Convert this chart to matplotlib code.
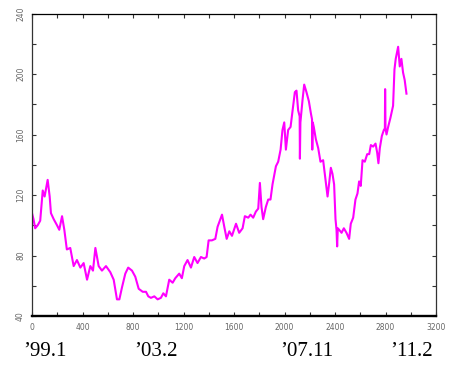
import matplotlib
matplotlib.use("Agg")
import matplotlib.pyplot as plt
from matplotlib.ticker import MultipleLocator

day = [0, 12, 25, 45, 65, 85, 100, 124, 140, 150, 172, 198, 216, 238, 256, 276, 303, 330, 356, 383,
       409, 436, 462, 483, 502, 528, 554, 586, 620, 647, 673, 692, 713, 739, 762, 792, 818, 845, 877, 903,
       921, 942, 969, 995, 1021, 1040, 1061, 1087, 1114, 1135, 1166, 1187, 1206, 1232, 1259, 1285, 1311,
       1338, 1364, 1383, 1399, 1425, 1452, 1470, 1505, 1523, 1542, 1563, 1584, 1616, 1641, 1668, 1686,
       1713, 1731, 1752, 1773, 1792, 1805, 1818, 1831, 1852, 1871, 1889, 1905, 1932, 1950, 1969, 1984,
       1998, 2011, 2029, 2048, 2064, 2082, 2095, 2108, 2120, 2122, 2126, 2143, 2156, 2174, 2193, 2209,
       2218, 2220, 2224, 2232, 2248, 2267, 2285, 2306, 2325, 2341, 2354, 2367, 2380, 2393, 2404, 2412,
       2417, 2422, 2433, 2452, 2470, 2491, 2512, 2525, 2544, 2562, 2578, 2591, 2604, 2618, 2636, 2655,
       2671, 2684, 2702, 2721, 2734, 2744, 2755, 2771, 2787, 2795, 2797, 2800, 2808, 2821, 2839, 2860,
       2871, 2881, 2900, 2913, 2926, 2939, 2952, 2966]
price = [108, 104, 98, 100, 103, 123, 119, 130, 119, 108, 104, 100, 97, 106, 97, 84, 85, 73, 77, 72,
         75, 64, 73, 70, 85, 73, 70, 73, 69, 64, 51, 51, 59, 68, 72, 70, 66, 58, 56, 56,
         53, 52, 53, 51, 52, 55, 53, 64, 62, 65, 68, 65, 73, 77, 72, 79, 75,
         79, 78, 79, 90, 90, 91, 99, 107, 99, 91, 96, 93, 101, 95, 98, 106,
         105, 107, 105, 109, 111, 128, 112, 104, 112, 117, 117, 127, 139, 142, 150, 163,
         168, 150, 163, 165, 176, 188, 189, 176, 172, 144, 168, 183, 193, 188, 182, 174,
         170, 150, 168, 165, 157, 151, 142, 143, 130, 119, 128, 138, 134, 127, 104, 97,
         86, 98, 97, 95, 98, 95, 91, 101, 105, 117, 121, 129, 126, 143, 142, 147,
         147, 153, 152, 154, 148, 141, 151, 159, 163, 164, 190, 164, 160, 165, 171, 179,
         203, 210, 218, 205, 210, 201, 196, 187]

xticks = [0, 400, 800, 1200, 1600, 2000, 2400, 2800, 3200]
yticks = [40, 80, 120, 160, 200, 240]
date_labels = ["\u201999.1", "\u201903.2", "\u201907.11", "\u201911.2"]
date_pos_px = [45, 156, 307, 411]

W, H = 449, 367
fig = plt.figure(figsize=(W / 100, H / 100), dpi=100)
ax = fig.add_axes([32 / W, 1 - 316 / H, (436 - 32) / W, (316 - 13.5) / H])
ax.plot(day, price, color="#FF00FF", lw=1.5)
ax.set_xlim(0, 3200)
ax.set_ylim(40, 240)
ax.set_xticks(xticks)
ax.set_yticks(yticks)
ax.xaxis.set_minor_locator(MultipleLocator(200))
ax.yaxis.set_minor_locator(MultipleLocator(20))
ax.tick_params(which="both", direction="in", top=True, right=True, length=3, width=0.8,
               labelsize=5.5, labelcolor="#666666", color="#333333")
ax.tick_params(axis="x", pad=5)
ax.tick_params(axis="y", pad=5)
for lab in ax.get_yticklabels():
    lab.set_rotation(90)
    lab.set_va("center")
for name, sp in ax.spines.items():
    sp.set_linewidth(0.9)
    sp.set_color("#333333")
ax.spines["bottom"].set_linewidth(1.7)
ax.spines["bottom"].set_color("black")
ax.spines["top"].set_color("black")

for lab, px in zip(date_labels, date_pos_px):
    fig.text(px / W, 1 - 351 / H, lab, ha="center", va="center",
             family="Liberation Serif", fontsize=15, color="black")

fig.savefig("out.png", dpi=100)
